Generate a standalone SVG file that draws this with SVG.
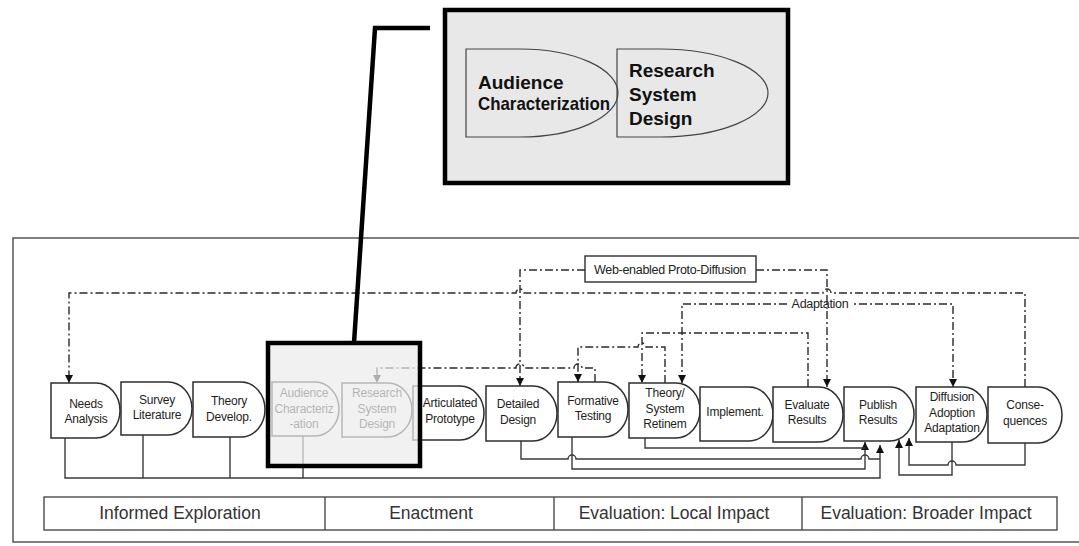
<svg xmlns="http://www.w3.org/2000/svg" width="1079" height="546" viewBox="0 0 1079 546">
  <style>
    .frame { fill: none; stroke: #4a4a4a; stroke-width: 1.4; }
    .node path { fill: #ffffff; stroke: #2e2e2e; stroke-width: 1.5; }
    .node text { font-family: "Liberation Sans", Arial, sans-serif; font-size: 12px; fill: #1e1e1e; text-anchor: middle; letter-spacing: -0.2px; }
    .dd { fill: none; stroke: #2a2a2a; stroke-width: 1.4; stroke-dasharray: 8 3 2 3; }
    .sl { fill: none; stroke: #3a3a3a; stroke-width: 1.4; }
    .lbl { font-family: "Liberation Sans", Arial, sans-serif; font-size: 12.5px; fill: #222; text-anchor: middle; letter-spacing: -0.3px; }
    .phase { font-family: "Liberation Sans", Arial, sans-serif; font-size: 17.5px; fill: #333; text-anchor: middle; }
    .big { font-family: "Liberation Sans", Arial, sans-serif; font-size: 19px; font-weight: bold; fill: #111; }
  </style>
  <defs>
    <marker id="arr" viewBox="0 0 10 10" refX="10" refY="5" markerUnits="userSpaceOnUse" markerWidth="8" markerHeight="8" orient="auto-start-reverse">
      <path d="M0,0 L10,5 L0,10 z" fill="#111"/>
    </marker>
  </defs>

  <rect width="1079" height="546" fill="#ffffff"/>

  <!-- outer frame (open to the right) -->
  <rect class="frame" x="13" y="238" width="1080" height="304"/>

  <!-- phase table -->
  <g id="phases">
    <rect class="frame" x="44" y="497" width="1013" height="33"/>
    <line class="frame" x1="325" y1="497" x2="325" y2="530"/>
    <line class="frame" x1="554" y1="497" x2="554" y2="530"/>
    <line class="frame" x1="802" y1="497" x2="802" y2="530"/>
    <text class="phase" x="180" y="519">Informed Exploration</text>
    <text class="phase" x="431" y="519">Enactment</text>
    <text class="phase" x="674" y="519">Evaluation: Local Impact</text>
    <text class="phase" x="926" y="519">Evaluation: Broader Impact</text>
  </g>

  <g id="connectors">
    <!-- feedback loops above the row (dash-dot) -->
    <path class="dd" d="M1025,387 V293 H831 a4,4 0 0 0 -8,0 H524 a4,4 0 0 0 -8,0 H69 V383" marker-end="url(#arr)"/>
    <path class="dd" d="M585,270 H520 V386" marker-end="url(#arr)"/>
    <path class="dd" d="M756,270 H827 V387" marker-end="url(#arr)"/>
    <path class="dd" d="M682,383 V304 H953 V387" marker-start="url(#arr)" marker-end="url(#arr)"/>
    <path class="dd" d="M808,387 V333 H642 V383" marker-end="url(#arr)"/>
    <path class="dd" d="M665,383 V347 H646 a4,4 0 0 0 -8,0 H578 V382" marker-end="url(#arr)"/>
    <path class="dd" d="M595,382 V368 H582 a4,4 0 0 0 -8,0 H524 a4,4 0 0 0 -8,0 H377 V383" marker-end="url(#arr)"/>

    <!-- labels on the loops -->
    <rect x="585" y="256" width="171" height="26" fill="#ffffff" stroke="#2e2e2e" stroke-width="1.4"/>
    <text class="lbl" x="670" y="274">Web-enabled Proto-Diffusion</text>
    <rect x="789" y="297" width="62" height="12" fill="#ffffff"/>
    <text class="lbl" x="820" y="308">Adaptation</text>
    <line class="dd" x1="827" y1="297" x2="827" y2="309"/>

    <!-- results collected below the row (solid) -->
    <path class="sl" d="M65,438 V478 H880 V445" marker-end="url(#arr)"/>
    <path class="sl" d="M143,435 V478 M230,437 V478 M303,436 V478"/>
    <path class="sl" d="M521,441 V459 H568 a4,4 0 0 1 8,0 H861 a4,4 0 0 1 8,0 H880"/>
    <path class="sl" d="M572,437 V469 H865 V442" marker-end="url(#arr)"/>
    <path class="sl" d="M645,438 V448 H865"/>
    <path class="sl" d="M952,442 V475 H899 V440" marker-end="url(#arr)"/>
    <path class="sl" d="M1025,443 V465 H956 a4,4 0 0 0 -8,0 H909 V438" marker-end="url(#arr)"/>
  </g>

  <!-- process steps -->
  <g id="n-needs" class="node">
    <path d="M51,383 h45 a24,27.5 0 0 1 0,55 h-45 z"/>
    <text x="86" y="408">Needs</text><text x="86" y="423">Analysis</text>
  </g>
  <g id="n-survey" class="node">
    <path d="M121,382 h47 a24,26.5 0 0 1 0,53 h-47 z"/>
    <text x="157" y="404">Survey</text><text x="157" y="419">Literature</text>
  </g>
  <g id="n-theory" class="node">
    <path d="M193,382 h48 a24,27.5 0 0 1 0,55 h-48 z"/>
    <text x="229" y="405">Theory</text><text x="229" y="421">Develop.</text>
  </g>
  <g id="n-audience" class="node">
    <path d="M272,382 h43 a24,27 0 0 1 0,54 h-43 z"/>
    <text x="304" y="397">Audience</text><text x="304" y="413">Characteriz</text><text x="304" y="428">-ation</text>
  </g>
  <g id="n-research" class="node">
    <path d="M342,383 h46 a24,27 0 0 1 0,54 h-46 z"/>
    <text x="377" y="397">Research</text><text x="377" y="413">System</text><text x="377" y="428">Design</text>
  </g>
  <g id="n-prototype" class="node">
    <path d="M413,386 h47 a24,27 0 0 1 0,54 h-47 z"/>
    <text x="450" y="407">Articulated</text><text x="450" y="423">Prototype</text>
  </g>
  <g id="n-detailed" class="node">
    <path d="M486,386 h47 a24,27.5 0 0 1 0,55 h-47 z"/>
    <text x="518" y="408">Detailed</text><text x="518" y="424">Design</text>
  </g>
  <g id="n-formative" class="node">
    <path d="M558,382 h46 a24,27.5 0 0 1 0,55 h-46 z"/>
    <text x="593" y="405">Formative</text><text x="593" y="420">Testing</text>
  </g>
  <g id="n-refinement" class="node">
    <path d="M629,383 h47 a24,27.5 0 0 1 0,55 h-47 z"/>
    <text x="665" y="397">Theory/</text><text x="665" y="413">System</text><text x="665" y="428">Retinem</text>
  </g>
  <g id="n-implement" class="node">
    <path d="M700,387 h49 a24,27 0 0 1 0,54 h-49 z"/>
    <text x="735" y="416">Implement.</text>
  </g>
  <g id="n-evaluate" class="node">
    <path d="M773,387 h46 a24,27.5 0 0 1 0,55 h-46 z"/>
    <text x="807" y="409">Evaluate</text><text x="807" y="424">Results</text>
  </g>
  <g id="n-publish" class="node">
    <path d="M844,387 h46 a24,27 0 0 1 0,54 h-46 z"/>
    <text x="878" y="409">Publish</text><text x="878" y="424">Results</text>
  </g>
  <g id="n-diffusion" class="node">
    <path d="M916,387 h47 a24,27.5 0 0 1 0,55 h-47 z"/>
    <text x="952" y="401">Diffusion</text><text x="952" y="417">Adoption</text><text x="952" y="432">Adaptation</text>
  </g>
  <g id="n-consequences" class="node">
    <path d="M988,387 h50 a24,28 0 0 1 0,56 h-50 z"/>
    <text x="1025" y="409">Conse-</text><text x="1025" y="425">quences</text>
  </g>

  <!-- highlighted pair, magnified above -->
  <g id="highlight">
    <rect x="268" y="343" width="152" height="123" fill="#ececec" fill-opacity="0.72" stroke="#000" stroke-width="4.5"/>
    <path d="M430,28 H375 L354,343" fill="none" stroke="#000" stroke-width="4.5"/>
  </g>

  <g id="callout">
    <rect x="445" y="10" width="343" height="173" fill="#e8e8e8" stroke="#000" stroke-width="4.5"/>
    <path d="M466,49 h54 a98,44 0 0 1 0,88 h-54 z" fill="none" stroke="#444" stroke-width="1.2"/>
    <path d="M617,49 h43 a108,44 0 0 1 0,88 h-43 z" fill="none" stroke="#444" stroke-width="1.2"/>
    <text class="big" x="478" y="89">Audience</text>
    <text class="big" x="478" y="110" textLength="132" lengthAdjust="spacingAndGlyphs">Characterization</text>
    <text class="big" x="629" y="77">Research</text>
    <text class="big" x="629" y="101">System</text>
    <text class="big" x="629" y="125">Design</text>
  </g>
</svg>
